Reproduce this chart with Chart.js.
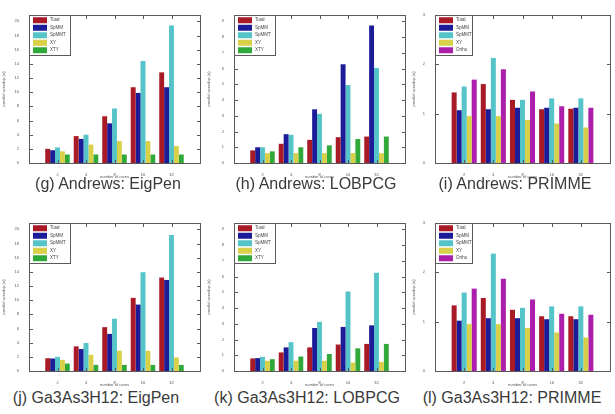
<!DOCTYPE html>
<html>
<head>
<meta charset="utf-8">
<script src="https://cdn.jsdelivr.net/npm/chart.js@4.4.1/dist/chart.umd.min.js"></script>
<style>
  body { margin: 0; background: #fff; width: 615px; height: 414px; position: relative; overflow: hidden;
         font-family: "Liberation Sans", Arial, sans-serif; }
  .panel { position: absolute; width: 205px; height: 180px; }
  .cap { position: absolute; width: 240px; text-align: center; font-size: 16px; color: #3a3a3a; white-space: nowrap; }
</style>
</head>
<body>
<div class="panel" style="left:0;top:0"><canvas id="g" width="205" height="180"></canvas></div>
<div class="panel" style="left:205px;top:0"><canvas id="h" width="205" height="180"></canvas></div>
<div class="panel" style="left:410px;top:0"><canvas id="i" width="205" height="180"></canvas></div>
<div class="panel" style="left:0;top:208px"><canvas id="j" width="205" height="180"></canvas></div>
<div class="panel" style="left:205px;top:208px"><canvas id="k" width="205" height="180"></canvas></div>
<div class="panel" style="left:410px;top:208px"><canvas id="l" width="205" height="180"></canvas></div>

<div class="cap" style="left:-12px;top:175px">(g) Andrews: EigPen</div>
<div class="cap" style="left:196px;top:175px">(h) Andrews: LOBPCG</div>
<div class="cap" style="left:395px;top:175px">(i) Andrews: PRIMME</div>
<div class="cap" style="left:-24px;top:389px">(j) Ga3As3H12: EigPen</div>
<div class="cap" style="left:187px;top:389px">(k) Ga3As3H12: LOBPCG</div>
<div class="cap" style="left:392px;top:389px">(l) Ga3As3H12: PRIMME</div>

<script>
// number of cores on the x axis
const coreCounts = ["2", "4", "8", "16", "32"];

// legend names
const kernelNames = ["Total", "SpMM", "SpMMT", "XY", "XTY"];
const primmeNames = ["Total", "SpMM", "SpMMT", "XY", "Ortho"];

// speedups, one row per legend entry, one column per core count
const andrewsEigPen = [
  [2.0, 3.8, 6.6, 10.7, 12.8],
  [1.8, 3.4, 5.6, 9.9, 10.7],
  [2.2, 4.0, 7.7, 14.4, 19.4],
  [1.65, 2.6, 3.1, 3.1, 2.4],
  [1.2, 1.2, 1.2, 1.2, 1.2]
];
const andrewsLobpcg = [
  [0.8, 1.22, 1.47, 1.64, 1.68],
  [1.0, 1.83, 3.41, 6.27, 8.74],
  [1.0, 1.79, 3.12, 4.95, 6.04],
  [0.63, 0.63, 0.63, 0.63, 0.63],
  [0.74, 1.0, 1.12, 1.52, 1.68]
];
const andrewsPrimme = [
  [1.43, 1.6, 1.28, 1.09, 1.1],
  [1.07, 1.09, 1.12, 1.12, 1.12],
  [1.55, 2.13, 1.28, 1.31, 1.31],
  [0.95, 0.95, 0.87, 0.8, 0.72],
  [1.69, 1.9, 1.45, 1.15, 1.12]
];
const gaEigPen = [
  [1.8, 3.48, 6.19, 10.33, 13.2],
  [1.76, 3.1, 5.24, 9.38, 12.86],
  [2.0, 3.95, 7.38, 13.95, 19.2],
  [1.57, 2.29, 2.86, 2.86, 1.9],
  [1.05, 0.86, 0.86, 0.86, 0.86]
];
const gaLobpcg = [
  [0.8, 1.18, 1.5, 1.68, 1.72],
  [0.82, 1.5, 2.73, 2.8, 2.9],
  [0.9, 1.83, 3.12, 5.05, 6.24],
  [0.65, 0.65, 0.65, 0.54, 0.58],
  [0.75, 0.92, 1.08, 1.44, 1.72]
];
const gaPrimme = [
  [1.33, 1.48, 1.24, 1.11, 1.11],
  [1.02, 1.07, 1.07, 1.05, 1.05],
  [1.59, 2.38, 1.28, 1.31, 1.31],
  [0.95, 0.95, 0.87, 0.78, 0.68],
  [1.67, 1.87, 1.45, 1.16, 1.14]
];

const colorsA = ["#a81a26", "#1c1c98", "#55c4c8", "#d8d048", "#30a83a"];
const colorsB = ["#a81a26", "#1c1c98", "#55c4c8", "#d8d048", "#ac1eac"];

// 1px lines as filled rects (strokes came out invisible here)
function hLine(ctx, x1, x2, y) { ctx.fillRect(Math.round(x1), Math.round(y), Math.round(x2 - x1) + 1, 1); }
function vLine(ctx, x, y1, y2) { ctx.fillRect(Math.round(x), Math.round(y1), 1, Math.round(y2 - y1) + 1); }
function frame(ctx, l, t, r, b) { hLine(ctx, l, r, t); hLine(ctx, l, r, b); vLine(ctx, l, t, b); vLine(ctx, r, t, b); }

// matlab-like box with inward ticks, plus a legend inside the top-left corner
const panelDecor = {
  id: "panelDecor",
  afterDraw(chart) {
    const ctx = chart.ctx;
    const xs = chart.scales.x, ys = chart.scales.y;
    const L = Math.round(xs.getPixelForValue(xs.min)), R = Math.round(xs.getPixelForValue(xs.max));
    const B = Math.round(ys.getPixelForValue(ys.min)), T = Math.round(ys.getPixelForValue(ys.max));
    ctx.save();
    ctx.fillStyle = "#5a5a5a";
    frame(ctx, L, T, R, B);
    ys.ticks.forEach(t => {
      const y = ys.getPixelForValue(t.value);
      hLine(ctx, L, L + 3, y);
      hLine(ctx, R - 3, R, y);
    });
    xs.ticks.forEach(t => {
      const x = xs.getPixelForValue(t.value);
      vLine(ctx, x, B - 3, B);
      vLine(ctx, x, T, T + 3);
    });

    const sets = chart.data.datasets;
    const w = chart.options.plugins.panelDecor.legendWidth, rowH = 7.5;
    const h = Math.round(rowH * sets.length + 2);
    ctx.fillStyle = "#fff";
    ctx.fillRect(L, T, w, h);
    ctx.fillStyle = "#5a5a5a";
    frame(ctx, L, T, L + w, T + h);
    ctx.font = "4.5px 'Liberation Sans', Arial";
    ctx.textBaseline = "middle";
    sets.forEach((ds, i) => {
      const cy = T + 1.5 + rowH * i + rowH / 2;
      ctx.fillStyle = ds.backgroundColor;
      ctx.fillRect(L + 4, cy - 3, 14, 6);
      ctx.fillStyle = "#444";
      ctx.fillText(ds.label, L + 21, cy);
    });
    ctx.restore();
  }
};

function makePanel(id, rows, names, colors, yMax, yStep, leftW, legendW) {
  new Chart(document.getElementById(id), {
    type: "bar",
    data: {
      datasets: rows.map((row, s) => ({
        label: names[s],
        data: row.map((v, c) => ({ x: c + 1, y: v })),
        backgroundColor: colors[s],
        borderWidth: 0,
        categoryPercentage: 0.86,
        barPercentage: 1
      }))
    },
    options: {
      responsive: false,
      animation: false,
      layout: { padding: { left: 0, right: 5, top: 15, bottom: 0 } },
      plugins: { legend: { display: false }, tooltip: { enabled: false }, panelDecor: { legendWidth: legendW } },
      scales: {
        x: {
          type: "linear",
          min: 0,
          max: 6,
          offset: false,
          grid: { display: false },
          border: { display: false },
          afterBuildTicks: s => { s.ticks = coreCounts.map((_, i) => ({ value: i + 1 })); },
          ticks: { callback: v => coreCounts[v - 1], font: { size: 4 }, color: "#555", padding: 1, maxRotation: 0 },
          title: { display: true, text: "number of cores", font: { size: 4 }, color: "#555", padding: 1 },
          afterFit: s => { s.height = 17; }
        },
        y: {
          min: 0,
          max: yMax,
          grid: { display: false },
          border: { display: false },
          afterBuildTicks: s => {
            const t = [];
            for (let v = 0; v <= yMax + 1e-9; v += yStep) t.push({ value: Math.round(v * 100) / 100 });
            s.ticks = t;
          },
          ticks: { font: { size: 4 }, color: "#555", padding: 2 },
          title: { display: true, text: "parallel speedup (x)", font: { size: 4 }, color: "#555", padding: 1 },
          afterFit: s => { s.width = leftW; }
        }
      }
    },
    plugins: [panelDecor]
  });
}

makePanel("g", andrewsEigPen, kernelNames, colorsA, 20.9, 2, 29, 41);
makePanel("h", andrewsLobpcg, kernelNames, colorsA, 9.4, 1, 29, 41);
makePanel("i", andrewsPrimme, primmeNames, colorsB, 3, 1, 25, 37);
makePanel("j", gaEigPen, kernelNames, colorsA, 20.9, 2, 29, 41);
makePanel("k", gaLobpcg, kernelNames, colorsA, 9.4, 1, 29, 41);
makePanel("l", gaPrimme, primmeNames, colorsB, 3, 1, 25, 37);
</script>
</body>
</html>
